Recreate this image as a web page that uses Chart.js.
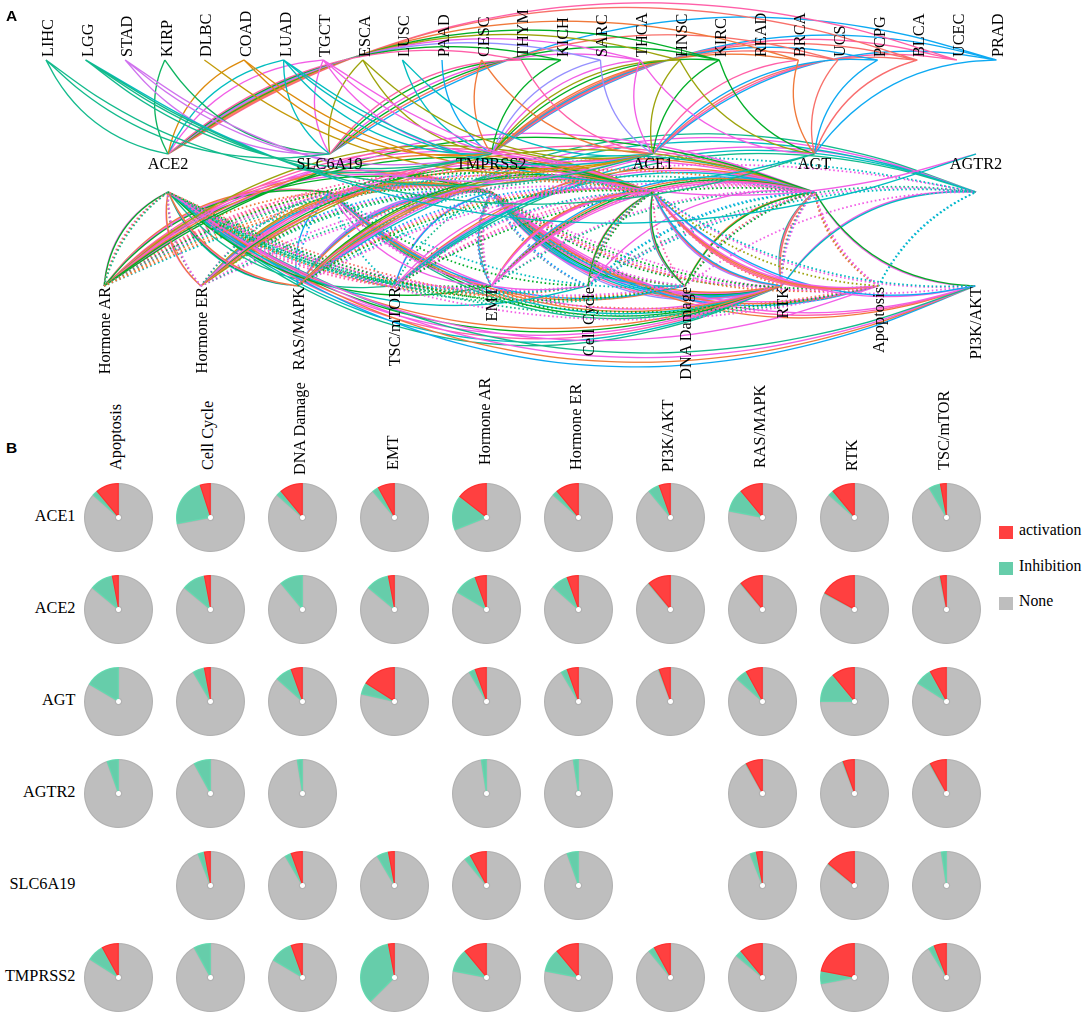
<!DOCTYPE html>
<html>
<head>
<meta charset="utf-8">
<title>Network and pathway pies</title>
<script src="https://cdn.jsdelivr.net/npm/chart.js@4"></script>
<style>
  html, body { margin: 0; padding: 0; background: #fff; }
  #page { position: relative; width: 1084px; height: 1016px; overflow: hidden; font-family: "Liberation Serif", serif; color: #000; }
  #page canvas { position: absolute; }
  .lbl { position: absolute; font-size: 16.3px; line-height: 18px; white-space: nowrap; }
  .up { transform-origin: 0 0; transform: rotate(-90deg); }
  .tag { position: absolute; font: bold 15.5px "Liberation Sans", sans-serif; }
  .key { position: absolute; width: 14px; height: 13px; }
</style>
</head>
<body>
<div id="page">
  <canvas id="network" width="1084" height="400" style="left:0;top:0;width:1084px;height:400px"></canvas>
</div>
<script>
"use strict";
// panel A nodes
const cancers = ["LIHC","LGG","STAD","KIRP","DLBC","COAD","LUAD","TGCT","ESCA","LUSC","PAAD","CESC","THYM","KICH","SARC","THCA","HNSC","KIRC","READ","BRCA","UCS","PCPG","BLCA","UCEC","PRAD"];
const genesTop = ["ACE2","SLC6A19","TMPRSS2","ACE1","AGT","AGTR2"];
const pathwaysBottom = ["Hormone AR","Hormone ER","RAS/MAPK","TSC/mTOR","EMT","Cell Cycle","DNA Damage","RTK","Apoptosis","PI3K/AKT"];

// panel B rows and columns
const genes = ["ACE1","ACE2","AGT","AGTR2","SLC6A19","TMPRSS2"];
const pathways = ["Apoptosis","Cell Cycle","DNA Damage","EMT","Hormone AR","Hormone ER","PI3K/AKT","RAS/MAPK","RTK","TSC/mTOR"];

// percent of cancers, same column order as pathways; null = no pie
const activationACE1 = [11,5,11,8,14.5,11,5.5,11,11,3];
const inhibitionACE1 = [2.5,23,2.5,3,16.5,2.5,5.5,11,2.5,5.5];
const activationACE2 = [3,3,0,3,5.5,5.5,11,11,17,3];
const inhibitionACE2 = [11,11,11,11,11,8,0.3,0.3,0.3,0.3];
const activationAGT = [0,3,5.5,16,5.5,5.5,5.5,8,11,8];
const inhibitionAGT = [16.5,5.5,8,5.5,3,3,0.3,5.5,14,8];
const activationAGTR2 = [0,0,0,null,0,0,null,8,5.5,8];
const inhibitionAGTR2 = [5.5,8,2.5,null,2.5,2.5,null,0.3,0.3,0.3];
const activationSLC6A19 = [null,3,5.5,3,8,0,null,3,14,0];
const inhibitionSLC6A19 = [null,3,3,5.5,3,5.5,null,3,0.3,2.5];
const activationTMPRSS2 = [8,0,5.5,3,11,11,8,11,22,6];
const inhibitionTMPRSS2 = [8,8,11,34.5,11,11,3,3,6,2.8];

// edges cancer -> genes, one letter per line colour
const cancerLinks = [
  ["LIHC","ACE2","t"],["LIHC","SLC6A19","t"],["LIHC","TMPRSS2","t"],
  ["LGG","TMPRSS2","t"],["LGG","ACE1","t"],["LGG","AGT","t"],["LGG","AGTR2","c"],
  ["STAD","SLC6A19","v"],["STAD","TMPRSS2","v"],["STAD","ACE1","v"],
  ["KIRP","ACE2","k"],["KIRP","SLC6A19","k"],
  ["DLBC","ACE1","y"],
  ["COAD","ACE2","o"],["COAD","TMPRSS2","o"],["COAD","ACE1","o"],
  ["LUAD","ACE2","c"],["LUAD","SLC6A19","c"],["LUAD","TMPRSS2","c"],["LUAD","ACE1","c"],["LUAD","AGT","c"],
  ["TGCT","ACE2","m"],["TGCT","SLC6A19","m"],["TGCT","TMPRSS2","m"],["TGCT","ACE1","m"],["TGCT","AGTR2","m"],
  ["ESCA","SLC6A19","l"],["ESCA","TMPRSS2","l"],["ESCA","ACE1","l"],
  ["LUSC","TMPRSS2","c"],["LUSC","ACE1","c"],
  ["PAAD","TMPRSS2","b"],
  ["CESC","TMPRSS2","n"],["CESC","ACE1","n"],
  ["THYM","ACE2","p"],["THYM","SLC6A19","p"],["THYM","ACE1","p"],
  ["KICH","ACE2","g"],["KICH","SLC6A19","g"],["KICH","TMPRSS2","g"],
  ["SARC","ACE2","u"],["SARC","TMPRSS2","u"],["SARC","ACE1","u"],
  ["THCA","ACE2","m"],["THCA","SLC6A19","m"],["THCA","TMPRSS2","m"],["THCA","ACE1","m"],["THCA","AGT","m"],
  ["HNSC","ACE2","l"],["HNSC","TMPRSS2","l"],["HNSC","ACE1","l"],["HNSC","AGT","l"],
  ["KIRC","ACE2","g"],["KIRC","SLC6A19","g"],["KIRC","TMPRSS2","g"],["KIRC","ACE1","g"],["KIRC","AGT","g"],
  ["BRCA","ACE2","n"],["BRCA","TMPRSS2","n"],["BRCA","ACE1","p"],["BRCA","AGT","n"],
  ["UCS","SLC6A19","r"],["UCS","TMPRSS2","r"],["UCS","AGT","r"],
  ["PCPG","TMPRSS2","b"],["PCPG","ACE1","b"],["PCPG","AGT","b"],
  ["BLCA","ACE2","r"],["BLCA","TMPRSS2","r"],["BLCA","ACE1","r"],["BLCA","AGT","r"],["BLCA","AGT","p"],
  ["UCEC","ACE2","p"],["UCEC","TMPRSS2","p"],["UCEC","ACE1","p"],
  ["PRAD","SLC6A19","b"],["PRAD","TMPRSS2","b"],["PRAD","ACE1","b"],["PRAD","AGT","b"]
];

// edges gene -> pathway, same column order as pathways, one letter per line
const solidACE1 = ["mnrp","gp","gmnb","mpn","gnmpl","ngmp","bm","nmlg","bnmu","m"];
const dottedACE1 = ["l","gmncbpl","p","m","ntmgp","m","cm","gnmb","n","mc"];
const solidACE2 = ["m","c","","g","gm","nm","tmnb","nmgc","ngmpct","t"];
const dottedACE2 = ["rgtm","mctn","mngt","gcmp","tnrm","mtp","","","",""];
const solidAGT = ["","m","gn","mpgnb","gm","lp","gm","mnt","rmlb","cmn"];
const dottedAGT = ["mplnr","cb","gmn","tm","n","t","","mc","mbcnr","gmp"];
const solidAGTR2 = ["","","","","","","","cmt","cm","tcm"];
const dottedAGTR2 = ["cb","cmt","m","","c","m","","","",""];
const solidSLC6A19 = ["","m","bn","m","gmn","","","b","mncgt",""];
const dottedSLC6A19 = ["","g","c","gm","n","tm","","b","","c"];
const solidTMPRSS2 = ["mnb","","cm","b","gmnp","mbnl","mpn","nbmu","nmgbcpu","bm"];
const dottedTMPRSS2 = ["gmn","bmt","mgnt","mpgmtcnpbtm","gmnp","tgmb","m","c","mg","t"];

const lineColors = { t:"#12BA8C", k:"#0DB35F", g:"#00AE27", c:"#00BDBF", b:"#0CA9F2", v:"#CF72EE", m:"#F25EE6", p:"#FF5FA8", r:"#F8706A", n:"#F0793A", o:"#DD8A0A", y:"#C39A08", l:"#9CA30B", u:"#9590FF" };
const pieColors = ["#BEBEBE","#66CDAA","#FF4040"];
const pieEdges = ["#B2B2B2","#62DBB0","#FF2E2E"];

const page = document.getElementById("page");
Chart.defaults.animation = false;

function addLabel(text, css, cls) {
  const el = document.createElement("div");
  el.className = cls || "lbl";
  el.textContent = text;
  el.style.cssText = css;
  page.appendChild(el);
  return el;
}

// node positions in the network canvas
function cancerNode(name) { return { x: 46 + 39.6 * cancers.indexOf(name), y: 60 }; }
function geneNode(name, y) { return { x: 168 + 161.6 * genesTop.indexOf(name), y: y }; }
function pathwayNode(name) { return { x: 104 + 96.8 * pathwaysBottom.indexOf(name), y: 286 }; }

// curved edge, always bent to the left going from lower node to upper node
function arcPoints(low, high, bend) {
  const dx = high.x - low.x, dy = high.y - low.y;
  const cx = (low.x + high.x) / 2 + dy * bend, cy = (low.y + high.y) / 2 - dx * bend;
  const pts = [];
  for (let s = 0; s <= 8; s++) {
    const t = s / 8, u = 1 - t;
    pts.push({ x: u * u * low.x + 2 * u * t * cx + t * t * high.x, y: u * u * low.y + 2 * u * t * cy + t * t * high.y });
  }
  return pts;
}

function edgeSet(low, high, bend, letter, dotted) {
  return {
    data: arcPoints(low, high, bend),
    showLine: true,
    tension: 0.3,
    pointRadius: 0,
    borderColor: lineColors[letter],
    borderWidth: dotted ? 1.8 : 1.35,
    borderDash: dotted ? [1.6, 2.6] : []
  };
}

const solidRows = [solidACE1, solidACE2, solidAGT, solidAGTR2, solidSLC6A19, solidTMPRSS2];
const dottedRows = [dottedACE1, dottedACE2, dottedAGT, dottedAGTR2, dottedSLC6A19, dottedTMPRSS2];
const activationRows = [activationACE1, activationACE2, activationAGT, activationAGTR2, activationSLC6A19, activationTMPRSS2];
const inhibitionRows = [inhibitionACE1, inhibitionACE2, inhibitionAGT, inhibitionAGTR2, inhibitionSLC6A19, inhibitionTMPRSS2];

const edgeSets = [];
cancerLinks.forEach(function (link) {
  edgeSets.push(edgeSet(geneNode(link[1], 154), cancerNode(link[0]), 0.25, link[2], false));
});
// lines of one pair fan out a little, dotted ones sit inside the solid ones
genes.forEach(function (gene, g) {
  pathways.forEach(function (path, p) {
    const low = pathwayNode(path), high = geneNode(gene, 192);
    Array.from(dottedRows[g][p]).forEach(function (letter, i) {
      edgeSets.push(edgeSet(low, high, 0.17 + 0.012 * i, letter, true));
    });
    Array.from(solidRows[g][p]).forEach(function (letter, i) {
      edgeSets.push(edgeSet(low, high, 0.27 + 0.012 * i, letter, false));
    });
  });
});

new Chart(document.getElementById("network"), {
  type: "scatter",
  data: { datasets: edgeSets },
  options: {
    responsive: false,
    devicePixelRatio: 2,
    layout: { padding: 0 },
    plugins: { legend: { display: false }, tooltip: { enabled: false } },
    scales: {
      x: { type: "linear", min: 0, max: 1084, display: false },
      y: { type: "linear", min: 0, max: 400, reverse: true, display: false }
    }
  }
});

// panel A text
addLabel("A", "left:6px;top:7px", "tag");
cancers.forEach(function (name) {
  const n = cancerNode(name);
  addLabel(name, "left:" + (n.x - 7) + "px;top:57px", "lbl up");
});
genesTop.forEach(function (name) {
  const n = geneNode(name, 0);
  const el = addLabel(name, "left:" + n.x + "px;top:155px");
  el.style.transform = "translateX(-50%)";
});
pathwaysBottom.forEach(function (name) {
  const n = pathwayNode(name);
  const el = addLabel(name, "left:" + (n.x - 8) + "px;top:287px", "lbl");
  el.style.transformOrigin = "0 0";
  el.style.transform = "rotate(-90deg) translateX(-100%)";
});

// panel B
addLabel("B", "left:6px;top:439px", "tag");
const colX = [118, 210, 302, 394.5, 486.5, 578, 670, 762, 854, 946];
const rowY = [517, 609, 701, 793, 885, 977];
const headBottom = [470, 470, 475, 470, 465, 470, 472, 468, 470.5, 470];

pathways.forEach(function (name, p) {
  addLabel(name, "left:" + (colX[p] - 11) + "px;top:" + headBottom[p] + "px", "lbl up");
});
genes.forEach(function (name, g) {
  addLabel(name, "right:" + (1084 - 75.5) + "px;top:" + (rowY[g] - 10) + "px");
  pathways.forEach(function (path, p) {
    const act = activationRows[g][p], inh = inhibitionRows[g][p];
    if (act === null) return;
    const c = document.createElement("canvas");
    c.width = 69; c.height = 69;
    c.style.cssText = "left:" + (colX[p] - 34.5) + "px;top:" + (rowY[g] - 34.5) + "px;width:69px;height:69px";
    page.appendChild(c);
    new Chart(c, {
      type: "doughnut",
      data: {
        labels: ["None", "Inhibition", "activation"],
        datasets: [{ data: [100 - act - inh, inh, act], backgroundColor: pieColors, borderColor: pieEdges, borderWidth: 0.8, borderAlign: "inner" }]
      },
      options: {
        responsive: false,
        devicePixelRatio: 2,
        cutout: 2.5,
        layout: { padding: 0 },
        plugins: { legend: { display: false }, tooltip: { enabled: false } }
      }
    });
  });
});

// legend
const legendNames = ["activation", "Inhibition", "None"];
const legendColors = [pieColors[2], pieColors[1], pieColors[0]];
const legendTop = [526, 562, 597];
legendNames.forEach(function (name, i) {
  const k = document.createElement("div");
  k.className = "key";
  k.style.cssText = "left:999px;top:" + legendTop[i] + "px;background:" + legendColors[i];
  page.appendChild(k);
  addLabel(name, "left:1019px;top:" + (legendTop[i] - 5) + "px;font-size:15.8px");
});
</script>
</body>
</html>
